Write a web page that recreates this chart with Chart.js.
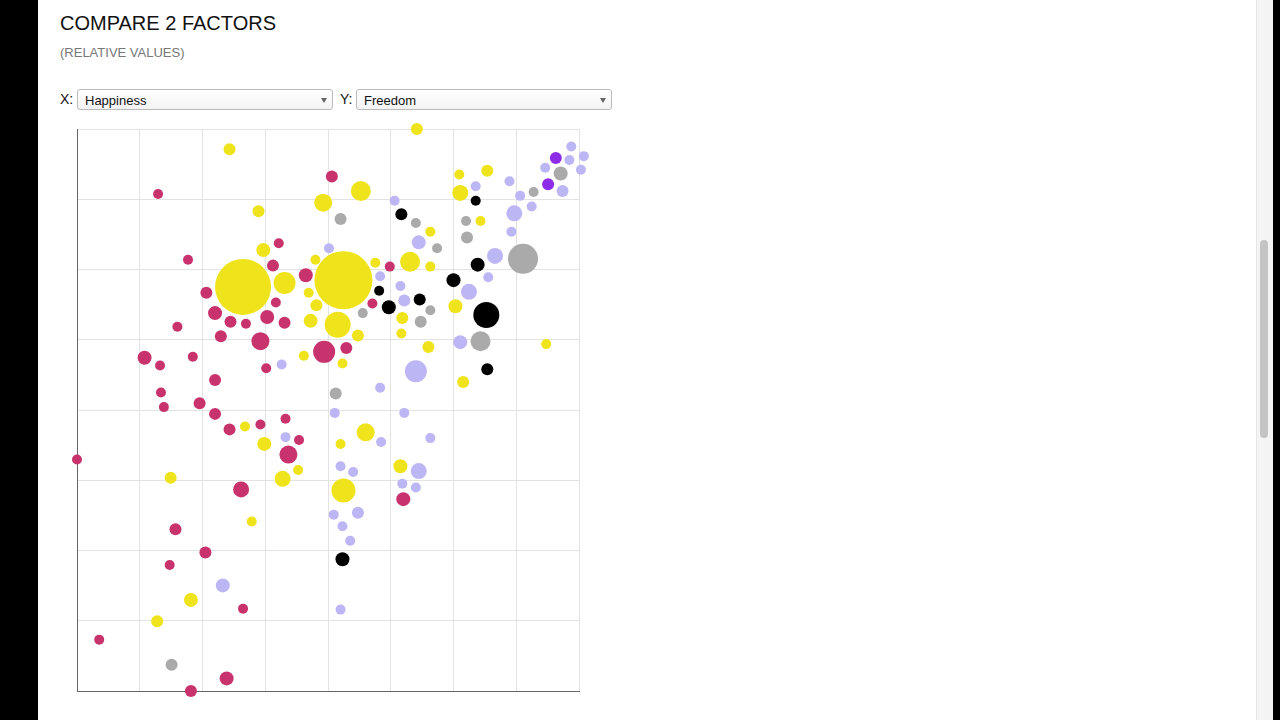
<!DOCTYPE html>
<html>
<head>
<meta charset="utf-8">
<script src="https://cdn.jsdelivr.net/npm/chart.js@4/dist/chart.umd.min.js"></script>
<style>
  html, body { margin: 0; padding: 0; background: #000; width: 1280px; height: 720px; overflow: hidden; font-family: "Helvetica Neue", "Liberation Sans", Arial, sans-serif; }
  #page { position: absolute; left: 38px; top: 0; width: 1218px; height: 720px; background: #fff; }
  #track { position: absolute; left: 1256px; top: 0; width: 16px; height: 720px; background: #f4f4f4; border-left: 1px solid #e6e6e6; }
  #thumb { position: absolute; left: 1260px; top: 240px; width: 8px; height: 198px; border-radius: 4px; background: #c4c4c4; }
  h1 { position: absolute; left: 60px; top: 12px; margin: 0; font-size: 20px; font-weight: 400; color: #111; }
  .sub { position: absolute; left: 60px; top: 45px; font-size: 13px; color: #777; }
  .lbl { position: absolute; top: 91px; font-size: 14px; color: #111; }
  .sel { position: absolute; top: 89px; height: 21px; border: 1px solid #bbb; border-radius: 3px; background: linear-gradient(#fff, #f3f3f3); font-size: 13px; line-height: 21px; padding-left: 7px; box-sizing: border-box; color: #111; }
  .sel:after { content: ""; position: absolute; right: 5px; top: 8px; border-left: 3.5px solid transparent; border-right: 3.5px solid transparent; border-top: 5px solid #666; }
  #wrap { position: absolute; left: 48px; top: 100px; width: 560px; height: 620px; }
</style>
</head>
<body>
<div id="page"></div>
<div id="track"></div><div id="thumb"></div>
<h1>COMPARE 2 FACTORS</h1>
<div class="sub">(RELATIVE VALUES)</div>
<div class="lbl" style="left:60px">X:</div>
<div class="sel" style="left:77px;width:256px">Happiness</div>
<div class="lbl" style="left:340px">Y:</div>
<div class="sel" style="left:356px;width:256px">Freedom</div>
<div id="wrap"><canvas id="c"></canvas></div>
<script>
// [x, y, r] — relative values
const magenta = [[0,239,5],[84,513,5],[115,445,5],[104,376,5],[70,344,7],[86,336,5],[120,345,5],[87,308,5],[90,293,5],[127,297,6],[143,321,6],[143,286,6],[134,411,6],[143,390,7],[159,381,6],[175,379,5],[149,366,6],[190,361,9],[196,333,5],[197,386,7],[215,380,6],[206,401,5],[203,439,6],[209,462,5],[237,429,7],[264,531,6],[256,350,11],[279,354,6],[306,400,5],[324,438,5],[158,270,6],[190,275,5],[216,281,5],[230,259,5],[219,244,9],[170,208,8],[102,167,6],[133,143,6],[96,130,5],[172,85,5],[23,53,5],[118,0,6],[155,13,7],[338,198,7]];
const yellow = [[158,559,6],[352,580,6],[188,495,6],[193,455,7],[172,417,28],[215,421,11],[240,411,5],[248,398,6],[242,382,7],[276,424,29],[270,378,13],[291,367,6],[275,338,5],[235,346,5],[255,504,9],[294,516,10],[247,445,5],[309,442,5],[345,443,10],[366,438,5],[337,385,6],[336,369,5],[364,355,6],[392,397,7],[396,533,5],[425,537,6],[397,514,8],[418,485,5],[366,474,5],[400,319,6],[486,358,5],[299,267,9],[273,255,5],[194,255,7],[174,273,5],[229,228,5],[213,219,8],[276,207,12],[335,232,7],[97,220,6],[181,175,5],[118,94,7],[83,72,6]];
const lavender = [[526,568,5],[512,562,5],[525,552,5],[510,548,5],[485,540,5],[522,538,5],[503,516,6],[459,511,5],[471,500,5],[453,493,8],[448,526,5],[413,521,5],[450,474,5],[433,449,8],[426,427,5],[406,412,8],[397,360,7],[351,330,11],[314,313,5],[339,287,5],[366,261,5],[354,227,8],[337,214,5],[351,210,5],[315,257,5],[286,226,5],[273,232,5],[267,287,5],[216,262,5],[212,337,5],[261,457,5],[329,506,5],[354,463,7],[314,428,5],[335,418,5],[339,403,6],[266,182,5],[275,170,5],[291,184,6],[283,155,5],[151,109,7],[273,84,5]];
const gray = [[501,534,7],[473,515,5],[462,446,15],[418,361,10],[404,468,6],[403,485,5],[373,457,5],[351,483,5],[273,487,6],[296,390,5],[356,381,6],[366,393,5],[268,307,6],[98,27,6]];
const black = [[336,492,6],[413,506,5],[415,440,7],[390,424,7],[313,413,5],[323,396,7],[355,404,6],[424,388,13],[425,332,6],[275,136,7]];
const purple = [[496,550,6],[488,523,6]];

const toPts = arr => arr.map(([x, y, r]) => ({ x, y, r }));
const groups = [
  { data: magenta,  color: '#c8336e' },
  { data: yellow,   color: '#efe41b' },
  { data: lavender, color: '#bcb6f5' },
  { data: gray,     color: '#aaaaaa' },
  { data: black,    color: '#000000' },
  { data: purple,   color: '#8d2de8' },
];

new Chart(document.getElementById('c'), {
  type: 'bubble',
  data: {
    datasets: groups.map(g => ({
      data: toPts(g.data),
      backgroundColor: g.color,
      borderWidth: 0,
      hoverBorderWidth: 0,
      clip: false,
    })),
  },
  options: {
    responsive: true,
    maintainAspectRatio: false,
    animation: false,
    layout: { padding: 11 },
    plugins: { legend: { display: false }, tooltip: { enabled: false } },
    scales: {
      x: { min: 0, max: 520, ticks: { display: false, stepSize: 65 }, grid: { color: '#e3e3e3', drawTicks: false }, border: { color: '#666' } },
      y: { min: 0, max: 580, ticks: { display: false, stepSize: 72.5 }, grid: { color: '#e3e3e3', drawTicks: false }, border: { color: '#666' } },
    },
  },
});
</script>
</body>
</html>
